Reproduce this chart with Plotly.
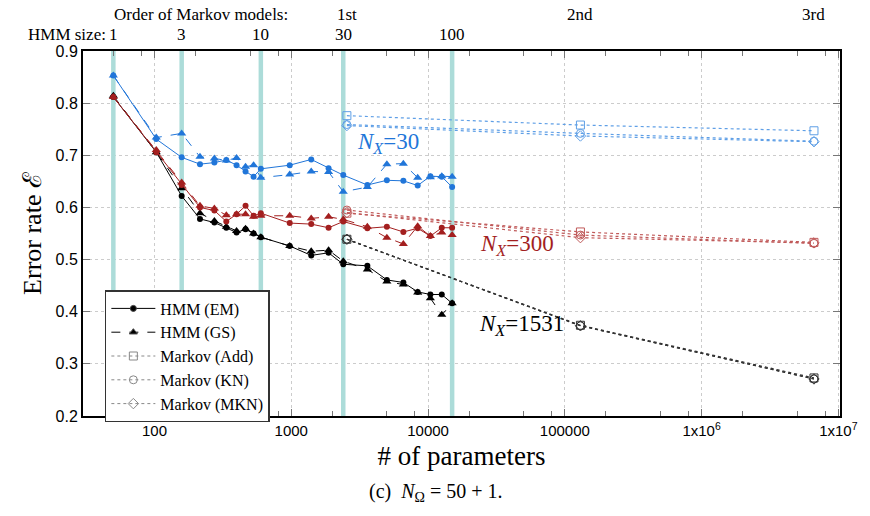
import numpy as np
import plotly.graph_objects as go

# ---------------- data ----------------
hmm_sizes = [1, 2, 3, 4, 5, 6, 7, 8, 9, 10, 15, 20, 25, 30, 40, 50, 60, 70, 80, 90, 100]
hmm_params = [50, 103, 158, 215, 274, 335, 398, 463, 530, 599, 974, 1399, 1874,
              2399, 3599, 4999, 6599, 8399, 10399, 12599, 14999]

em_30 = [0.853, 0.731, 0.696, 0.683, 0.686, 0.691, 0.681, 0.669, 0.659, 0.674, 0.681,
         0.692, 0.675, 0.662, 0.643, 0.652, 0.651, 0.642, 0.660, 0.659, 0.639]
gs_30 = [0.853, 0.734, 0.742, 0.697, 0.694, 0.690, 0.695, 0.678, 0.681, 0.657, 0.663,
         0.669, 0.668, 0.630, 0.639, 0.683, 0.684, 0.657, 0.658, 0.660, 0.659]

em_300 = [0.812, 0.706, 0.643, 0.600, 0.594, 0.573, 0.587, 0.603, 0.584, 0.589, 0.570,
          0.568, 0.561, 0.573, 0.560, 0.563, 0.553, 0.560, 0.545, 0.561, 0.561]
gs_300 = [0.812, 0.710, 0.648, 0.603, 0.598, 0.585, 0.587, 0.587, 0.582, 0.584, 0.584,
          0.579, 0.582, 0.577, 0.563, 0.542, 0.530, 0.564, 0.545, 0.552, 0.547]

em_1531 = [0.812, 0.706, 0.622, 0.578, 0.571, 0.561, 0.552, 0.558, 0.550, 0.543, 0.526,
           0.508, 0.513, 0.491, 0.488, 0.461, 0.456, 0.438, 0.433, 0.433, 0.416]
gs_1531 = [0.814, 0.706, 0.637, 0.589, 0.574, 0.563, 0.555, 0.559, 0.550, 0.543, 0.526,
           0.516, 0.518, 0.497, 0.481, 0.458, 0.452, 0.437, 0.426, 0.394, 0.416]

markov_orders = ["1st", "2nd", "3rd"]
markov_params = [2550, 130050, 6632550]

add_30 = [0.776, 0.758, 0.747]
kn_30 = [0.759, 0.742, 0.727]
mkn_30 = [0.757, 0.737, 0.726]

add_300 = [0.589, 0.553, 0.533]
kn_300 = [0.595, 0.547, 0.531]
mkn_300 = [0.590, 0.542, 0.532]

add_1531 = [0.539, 0.374, 0.273]
kn_1531 = [0.539, 0.373, 0.271]
mkn_1531 = [0.539, 0.373, 0.271]

marked_sizes = [1, 3, 10, 30, 100]
marked_params = [50, 158, 599, 2399, 14999]

x_tickvals = [100, 1000, 10000, 100000, 1000000, 10000000]
x_ticktext = ["100", "1000", "10000", "100000", "1x10<sup>6</sup>", "1x10<sup>7</sup>"]
y_tickvals = [0.2, 0.3, 0.4, 0.5, 0.6, 0.7, 0.8, 0.9]

# ---------------- style ----------------
BLUE = "#2176d9"
BLUE_L = "#5f9fe6"
RED = "#a31f1f"
RED_L = "#c05a5a"
BLACK = "#000000"
BLACK_L = "#333333"
CYAN = "#acdcd9"
SERIF = "Liberation Serif, DejaVu Serif, serif"
SANS = "Liberation Sans Narrow, Liberation Sans, Arial, sans-serif"

fig = go.Figure()

# vertical cyan guide lines at HMM sizes
for p in marked_params:
    fig.add_trace(go.Scatter(x=[p, p], y=[0.2, 0.9], mode="lines",
                             line=dict(color=CYAN, width=4.5),
                             showlegend=False, hoverinfo="skip"))

def add_group(em, gs, add, kn, mkn, col, coll):
    fig.add_trace(go.Scatter(x=markov_params, y=add, mode="lines+markers",
                             line=dict(color=coll, width=1.2, dash="dot"),
                             marker=dict(symbol="square-open", size=8, color=coll, line=dict(width=1)),
                             showlegend=False))
    fig.add_trace(go.Scatter(x=markov_params, y=kn, mode="lines+markers",
                             line=dict(color=coll, width=1.2, dash="dot"),
                             marker=dict(symbol="circle-open", size=8, color=coll, line=dict(width=1)),
                             showlegend=False))
    fig.add_trace(go.Scatter(x=markov_params, y=mkn, mode="lines+markers",
                             line=dict(color=coll, width=1.2, dash="dot"),
                             marker=dict(symbol="diamond-open", size=8, color=coll, line=dict(width=1)),
                             showlegend=False))
    fig.add_trace(go.Scatter(x=hmm_params, y=gs, mode="lines+markers",
                             line=dict(color=col, width=1, dash="dash"),
                             marker=dict(symbol="triangle-up", size=8, color=col),
                             showlegend=False))
    fig.add_trace(go.Scatter(x=hmm_params, y=em, mode="lines+markers",
                             line=dict(color=col, width=1),
                             marker=dict(symbol="circle", size=6, color=col),
                             showlegend=False))

add_group(em_1531, gs_1531, add_1531, kn_1531, mkn_1531, BLACK, BLACK_L)
add_group(em_300, gs_300, add_300, kn_300, mkn_300, RED, RED_L)
add_group(em_30, gs_30, add_30, kn_30, mkn_30, BLUE, BLUE_L)

# legend entries
leg = [
    ("HMM (EM)", "solid", "circle", 6, BLACK),
    ("HMM (GS)", "dash", "triangle-up", 7, BLACK),
    ("Markov (Add)", "dot", "square-open", 8, "#888888"),
    ("Markov (KN)", "dot", "circle-open", 8, "#888888"),
    ("Markov (MKN)", "dot", "diamond-open", 8, "#888888"),
]
for name, dash, sym, sz, c in leg:
    fig.add_trace(go.Scatter(x=[None], y=[None], mode="lines+markers", name=name,
                             line=dict(color=c, width=1, dash=dash),
                             marker=dict(symbol=sym, size=sz, color=c, line=dict(width=1)),
                             showlegend=True))

ann = []
TOPF = dict(family=SERIF, size=17, color="black")
ROW1 = (416 - 14) / 365
ROW2 = (416 - 34) / 365
# top labels
ann.append(dict(text="Order of Markov models:", xref="paper", yref="paper",
                x=(291 - 83) / 762, y=ROW1, xanchor="right", yanchor="middle",
                showarrow=False, font=TOPF))
for lab, p in zip(markov_orders, markov_params):
    ann.append(dict(text=lab, xref="x", yref="paper", x=np.log10(p), y=ROW1,
                    xanchor="center", yanchor="middle", showarrow=False, font=TOPF))
ann.append(dict(text="HMM size:", xref="paper", yref="paper",
                x=(108 - 83) / 762, y=ROW2, xanchor="right", yanchor="middle",
                showarrow=False, font=TOPF))
for s, p in zip(marked_sizes, marked_params):
    ann.append(dict(text=str(s), xref="x", yref="paper", x=np.log10(p), y=ROW2,
                    xanchor="center", yanchor="middle", showarrow=False, font=TOPF))
# series labels
ann.append(dict(text="<i>N</i><sub><i>X</i></sub>=30", xref="x", yref="y", x=3.708, y=0.724,
                showarrow=False, font=dict(family=SERIF, size=23, color=BLUE)))
ann.append(dict(text="<i>N</i><sub><i>X</i></sub>=300", xref="x", yref="y", x=4.653, y=0.528,
                showarrow=False, font=dict(family=SERIF, size=23, color=RED)))
ann.append(dict(text="<i>N</i><sub><i>X</i></sub>=1531", xref="x", yref="y", x=4.682, y=0.374,
                showarrow=False, font=dict(family=SERIF, size=23, color=BLACK)))
# caption
ann.append(dict(text="(c)  <i>N</i><sub>Ω</sub> = 50 + 1.", xref="paper", yref="paper",
                x=(438 - 83) / 762, y=(416 - 493) / 365, xanchor="center", yanchor="middle",
                showarrow=False, font=dict(family=SERIF, size=20, color="black")))

minor_vals = []
for d in [10, 100, 1000, 10000, 100000, 1000000]:
    for m in [2, 5, 8]:
        minor_vals.append(m * d)

fig.update_layout(
    width=870, height=516,
    margin=dict(l=83, r=25, t=51, b=100),
    paper_bgcolor="white", plot_bgcolor="white",
    annotations=ann,
    legend=dict(x=(105 - 83) / 762, y=(416 - 290) / 365, xanchor="left", yanchor="top",
                bordercolor="#333333", borderwidth=1.5, bgcolor="white",
                font=dict(family=SERIF, size=16, color="black"),
                itemwidth=44, tracegroupgap=0),
    xaxis=dict(type="log", range=[np.log10(30), 7.012],
               tickvals=x_tickvals, ticktext=x_ticktext,
               ticks="inside", ticklen=7, tickcolor="#777777", tickwidth=1.2,
               showline=True, linecolor="black", linewidth=2, mirror="ticks",
               showgrid=True, gridcolor="#cccccc", griddash="dot", gridwidth=1,
               zeroline=False,
               minor=dict(tickvals=minor_vals, ticks="inside", ticklen=5,
                          tickcolor="#777777", showgrid=False),
               tickfont=dict(family=SANS, size=15, color="black"),
               title=dict(text="# of parameters", font=dict(family=SERIF, size=27, color="black"),
                          standoff=8)),
    yaxis=dict(range=[0.2, 0.9], tickvals=y_tickvals,
               tickformat=".1f",
               ticks="inside", ticklen=7, tickcolor="#777777", tickwidth=1.2,
               showline=True, linecolor="black", linewidth=2, mirror="ticks",
               showgrid=True, gridcolor="#cccccc", griddash="dot", gridwidth=1,
               zeroline=False,
               tickfont=dict(family=SANS, size=16, color="black"),
               title=dict(text="Error rate ℰ", font=dict(family=SERIF, size=26, color="black"),
                          standoff=6)),
)

fig.write_html("out.html")
